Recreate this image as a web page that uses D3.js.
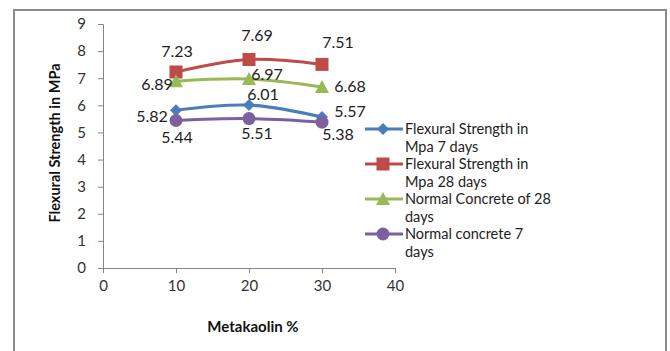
<!DOCTYPE html>
<html>
<head>
<meta charset="utf-8">
<script src="https://cdn.jsdelivr.net/npm/d3@7"></script>
<style>
  body { margin: 0; background: #fff; }
  svg { display: block; font-family: Lato, 'Open Sans', sans-serif; }
</style>
</head>
<body>
<svg id="chart" width="670" height="351"></svg>
<script>
const metakaolin = [10, 20, 30];
const flexural7 = [5.82, 6.01, 5.57];
const flexural28 = [7.23, 7.69, 7.51];
const normal28 = [6.89, 6.97, 6.68];
const normal7 = [5.44, 5.51, 5.38];
const xTicks = [0, 10, 20, 30, 40];
const yTicks = [0, 1, 2, 3, 4, 5, 6, 7, 8, 9];

// label offsets (px) from each point, placed as in the source chart
const series = [
  { name: ['Flexural Strength in', 'Mpa 7 days'], values: flexural7, color: '#4a7ebb', marker: 'diamond',
    offsets: [[-24, 12], [14, -5], [28, 0]] },
  { name: ['Flexural Strength in', 'Mpa 28 days'], values: flexural28, color: '#be4b48', marker: 'square',
    offsets: [[1, -15], [8, -19], [16, -16]] },
  { name: ['Normal Concrete of 28', 'days'], values: normal28, color: '#98b954', marker: 'triangle',
    offsets: [[-19, 9], [18, 1], [28, 5]] },
  { name: ['Normal concrete 7', 'days'], values: normal7, color: '#7d60a0', marker: 'circle',
    offsets: [[1, 22], [8, 20], [16, 18]] }
];

const svg = d3.select('#chart');

// outer frame (open at the bottom)
svg.append('path')
  .attr('d', 'M14,351 V10 H666 V351')
  .attr('fill', 'none')
  .attr('stroke', '#8a8a8a')
  .attr('stroke-width', 2);

const x = d3.scaleLinear().domain([0, 40]).range([103, 395]);
const y = d3.scaleLinear().domain([0, 9]).range([268, 24]);

const axisColor = '#868686';

const yAxis = svg.append('g')
  .attr('transform', `translate(${x(0)},0)`)
  .call(d3.axisLeft(y).tickValues(yTicks).tickSize(5).tickPadding(12));
const xAxis = svg.append('g')
  .attr('transform', `translate(0,${y(0)})`)
  .call(d3.axisBottom(x).tickValues(xTicks).tickSize(5).tickPadding(7));

[xAxis, yAxis].forEach(g => {
  g.select('.domain').attr('stroke', axisColor);
  g.selectAll('.tick line').attr('stroke', axisColor);
  g.selectAll('.tick text')
    .attr('fill', '#333')
    .style('font-size', '15px')
    .style('font-family', 'Lato, sans-serif');
});

svg.append('text')
  .attr('transform', `translate(60,143) rotate(-90)`)
  .attr('text-anchor', 'middle')
  .style('font-size', '14.5px')
  .style('font-weight', 'bold')
  .attr('fill', '#111')
  .text('Flexural Strength in MPa');

svg.append('text')
  .attr('x', 253)
  .attr('y', 332)
  .attr('text-anchor', 'middle')
  .style('font-size', '15px')
  .style('font-weight', 'bold')
  .attr('fill', '#111')
  .text('Metakaolin %');

const line = d3.line()
  .x((d, i) => x(metakaolin[i]))
  .y(d => y(d))
  .curve(d3.curveCatmullRom.alpha(0.5));

function drawMarker(g, type, color) {
  if (type === 'diamond') {
    g.append('path').attr('d', 'M0,-6 L6,0 L0,6 L-6,0 Z').attr('fill', color);
  } else if (type === 'square') {
    g.append('rect').attr('x', -6.5).attr('y', -6.5).attr('width', 13).attr('height', 13).attr('fill', color);
  } else if (type === 'triangle') {
    g.append('path').attr('d', 'M0,-7 L7,6 L-7,6 Z').attr('fill', color);
  } else {
    g.append('circle').attr('r', 6.5).attr('fill', color);
  }
}

series.forEach(s => {
  svg.append('path')
    .attr('d', line(s.values))
    .attr('fill', 'none')
    .attr('stroke', s.color)
    .attr('stroke-width', 3);

  s.values.forEach((v, i) => {
    const g = svg.append('g').attr('transform', `translate(${x(metakaolin[i])},${y(v)})`);
    drawMarker(g, s.marker, s.color);
  });
});

series.forEach(s => {
  s.values.forEach((v, i) => {
    const [dx, dy] = s.offsets[i];
    svg.append('text')
      .attr('x', x(metakaolin[i]) + dx)
      .attr('y', y(v) + dy)
      .attr('text-anchor', 'middle')
      .style('font-size', '16px')
      .attr('fill', '#222')
      .text(d3.format('.2f')(v));
  });
});

// legend
const legend = svg.append('g').attr('transform', 'translate(365,129)');
series.forEach((s, i) => {
  const row = legend.append('g').attr('transform', `translate(0,${i * 35})`);
  row.append('line')
    .attr('x1', 0).attr('x2', 38)
    .attr('stroke', s.color)
    .attr('stroke-width', 3);
  const m = row.append('g').attr('transform', 'translate(18,0)');
  drawMarker(m, s.marker, s.color);
  s.name.forEach((t, j) => {
    row.append('text')
      .attr('x', 40)
      .attr('y', j * 17.5 + 5)
      .style('font-size', '14.5px')
      .attr('fill', '#222')
      .text(t);
  });
});
</script>
</body>
</html>
